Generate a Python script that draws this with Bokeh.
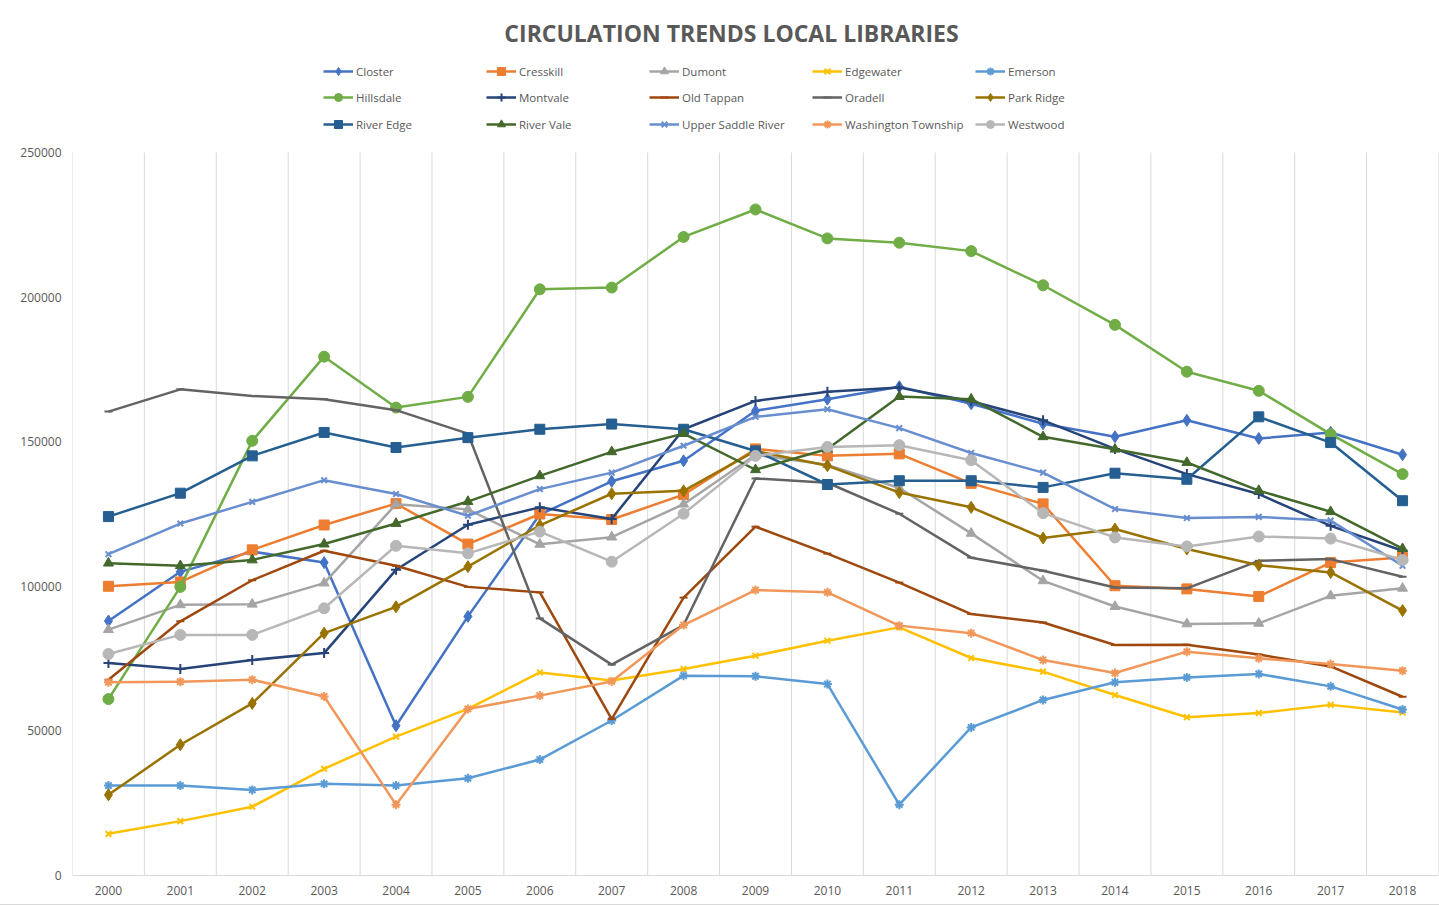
from bokeh.plotting import figure
from bokeh.models import Range1d, FixedTicker, NumeralTickFormatter, Legend, LegendItem, Label
from bokeh.embed import file_html
from bokeh.resources import INLINE

years = ["2000", "2001", "2002", "2003", "2004", "2005", "2006", "2007", "2008", "2009",
         "2010", "2011", "2012", "2013", "2014", "2015", "2016", "2017", "2018"]

closter = [88000, 105000, 112000, 108200, 51800, 89600, 124800, 136300, 143400, 160700,
           164700, 169000, 163100, 156200, 151700, 157400, 151100, 153200, 145500]
cresskill = [100000, 101500, 112600, 121200, 128600, 114600, 125000, 123100, 131700, 147500,
             145100, 145800, 135600, 128500, 100200, 99100, 96500, 108200, 110000]
dumont = [85000, 93600, 93800, 101100, 128400, 126600, 114500, 117000, 128400, 145500,
          142000, 134000, 118300, 101900, 93000, 87000, 87200, 96700, 99300]
edgewater = [14400, 18800, 23800, 36900, 48000, 57600, 70200, 67400, 71400, 76000,
             81200, 85800, 75200, 70500, 62400, 54700, 56200, 59000, 56400]
emerson = [31100, 31100, 29600, 31700, 31100, 33600, 40100, 53600, 69100, 68900,
           66200, 24500, 51200, 60700, 66800, 68500, 69700, 65400, 57400]
hillsdale = [61000, 99800, 150300, 179400, 161800, 165500, 202700, 203300, 220800, 230300,
             220300, 218800, 215900, 204100, 190400, 174200, 167600, 152600, 138800]
montvale = [73500, 71400, 74500, 76900, 105700, 121300, 127300, 123300, 154300, 164100,
            167300, 168700, 164000, 157400, 147500, 138800, 131900, 120900, 112300]
old_tappan = [67700, 87900, 102100, 112300, 107100, 99800, 97900, 54100, 96100, 120600,
              111300, 101300, 90400, 87500, 79700, 79800, 76400, 72300, 61800]
oradell = [160400, 168100, 165800, 164700, 160900, 152800, 88900, 72900, 86600, 137300,
           135800, 125100, 109900, 105400, 99600, 99300, 108800, 109400, 103300]
park_ridge = [27900, 45200, 59500, 83800, 92900, 106800, 121100, 132000, 133000, 146800,
              141700, 132400, 127300, 116700, 119800, 112900, 107300, 104800, 91600]
river_edge = [124100, 132200, 145100, 153200, 148000, 151400, 154300, 156100, 154300, 146800,
              135200, 136500, 136500, 134200, 139100, 137000, 158600, 149700, 129600]
river_vale = [108000, 107100, 109100, 114600, 121700, 129300, 138200, 146500, 152800, 140300,
              147500, 165600, 164700, 151700, 147400, 142800, 133100, 125800, 113000]
upper_saddle_river = [111100, 121700, 129200, 136700, 131900, 124400, 133600, 139300, 148600, 158600,
                      161200, 154700, 146100, 139300, 126700, 123600, 124000, 122700, 107100]
washington_township = [66800, 67000, 67700, 61900, 24500, 57600, 62200, 67100, 86600, 98700,
                       97900, 86400, 83800, 74500, 70000, 77400, 75100, 73100, 70800]
westwood = [76600, 83200, 83200, 92400, 114000, 111400, 118900, 108500, 125100, 145100,
            148200, 148800, 143600, 125300, 116900, 113800, 117200, 116500, 109100]

names = ["Closter", "Cresskill", "Dumont", "Edgewater", "Emerson",
         "Hillsdale", "Montvale", "Old Tappan", "Oradell", "Park Ridge",
         "River Edge", "River Vale", "Upper Saddle River", "Washington Township", "Westwood"]
series = [closter, cresskill, dumont, edgewater, emerson,
          hillsdale, montvale, old_tappan, oradell, park_ridge,
          river_edge, river_vale, upper_saddle_river, washington_township, westwood]
colors = ["#4472C4", "#ED7D31", "#A5A5A5", "#FFC000", "#5B9BD5",
          "#70AD47", "#264478", "#9E480E", "#636363", "#997300",
          "#255E91", "#43682B", "#698ED0", "#F1975A", "#B7B7B7"]
markers = ["diamond", "square", "triangle", "x", "asterisk",
           "circle", "cross", "dash", "dash", "diamond",
           "square", "triangle", "x", "asterisk", "circle"]
sizes = {"diamond": 12, "square": 10, "triangle": 10, "x": 8, "asterisk": 9,
         "circle": 11, "cross": 10, "dash": 8}
y_ticks = [0, 50000, 100000, 150000, 200000, 250000]
title_text = "CIRCULATION TRENDS LOCAL LIBRARIES"

TXT = "#595959"
FONT = "Open Sans"

# layout (page pixels)
W, H = 1439, 904
FL, FR, FT, FB = 72, 1438, 5, 875      # frame edges
TOP_VALUE_Y = 152                       # pixel row of the top tick value
YMAX = y_ticks[-1]
y_end = YMAX * (FB - FT) / (FB - TOP_VALUE_Y)

n = len(years)
xs = list(range(n))

p = figure(width=W, height=H, output_backend="svg", toolbar_location=None,
           x_range=Range1d(-0.5, n - 0.5), y_range=Range1d(0, y_end),
           min_border_left=FL, min_border_right=W - FR, min_border_top=FT,
           min_border_bottom=H - FB, title_location=None)
p.styles = {"outline": "1px solid #D9D9D9"}
p.outline_line_color = None
p.background_fill_color = "white"
p.border_fill_color = "white"

# no automatic grid; category-boundary lines only up to the top tick
p.xgrid.visible = False
p.ygrid.visible = False
bounds = [i - 0.5 for i in range(n + 1)]
p.segment(x0=bounds, y0=[0] * len(bounds), x1=bounds, y1=[YMAX] * len(bounds),
          line_color="#D9D9D9", line_width=1)

# x axis
p.xaxis.ticker = FixedTicker(ticks=xs)
p.xaxis.major_label_overrides = {i: y for i, y in enumerate(years)}
p.xaxis.axis_line_color = "#D9D9D9"
p.xaxis.major_tick_line_color = None
p.xaxis.major_tick_out = 0
p.xaxis.major_tick_in = 0
p.xaxis.minor_tick_line_color = None
p.xaxis.major_label_standoff = 10
p.xaxis.major_label_text_font = FONT
p.xaxis.major_label_text_font_size = "12px"
p.xaxis.major_label_text_color = TXT

# y axis
p.yaxis.ticker = FixedTicker(ticks=y_ticks)
p.yaxis.formatter = NumeralTickFormatter(format="0")
p.yaxis.axis_line_color = None
p.yaxis.major_tick_line_color = None
p.yaxis.major_tick_out = 0
p.yaxis.major_tick_in = 0
p.yaxis.minor_tick_line_color = None
p.yaxis.major_label_standoff = 11
p.yaxis.major_label_text_font = FONT
p.yaxis.major_label_text_font_size = "12px"
p.yaxis.major_label_text_color = TXT

items = []
for name, vals, col, mk in zip(names, series, colors, markers):
    lr = p.line(xs, vals, line_color=col, line_width=2.5, line_join="round")
    if mk in ("x", "asterisk", "cross", "dash"):
        sr = p.scatter(xs, vals, marker=mk, size=sizes[mk], line_color=col, line_width=2,
                       fill_color=col)
    else:
        sr = p.scatter(xs, vals, marker=mk, size=sizes[mk], line_color=col, fill_color=col)
    items.append(LegendItem(label=name, renderers=[lr, sr]))

# title (inside the extended frame, above the data area)
px_per_cat = (FR - FL) / n
px_per_val = (FB - TOP_VALUE_Y) / YMAX
title_cx, title_cy = 731, 32
p.add_layout(Label(x=-0.5 + (title_cx - FL) / px_per_cat, y=(FB - title_cy) / px_per_val,
                   text=title_text, text_font=FONT, text_font_style="bold",
                   text_font_size="23px", text_color=TXT, text_align="center",
                   text_baseline="middle"))

row_centers = [68, 94, 121]
LEG_H = 26
for r in range(3):
    vy = FB - (row_centers[r] - LEG_H / 2) - LEG_H
    leg = Legend(items=items[r * 5:(r + 1) * 5], orientation="horizontal",
                 location=(326 - FL - 3, vy), border_line_color=None,
                 background_fill_alpha=0, padding=3, margin=0, spacing=4,
                 glyph_width=30, glyph_height=20, label_height=20, label_width=126,
                 label_standoff=3, label_text_font=FONT, label_text_font_size="11.5px",
                 label_text_color=TXT)
    p.add_layout(leg, "center")

open("out.html", "w").write(file_html(p, INLINE))
